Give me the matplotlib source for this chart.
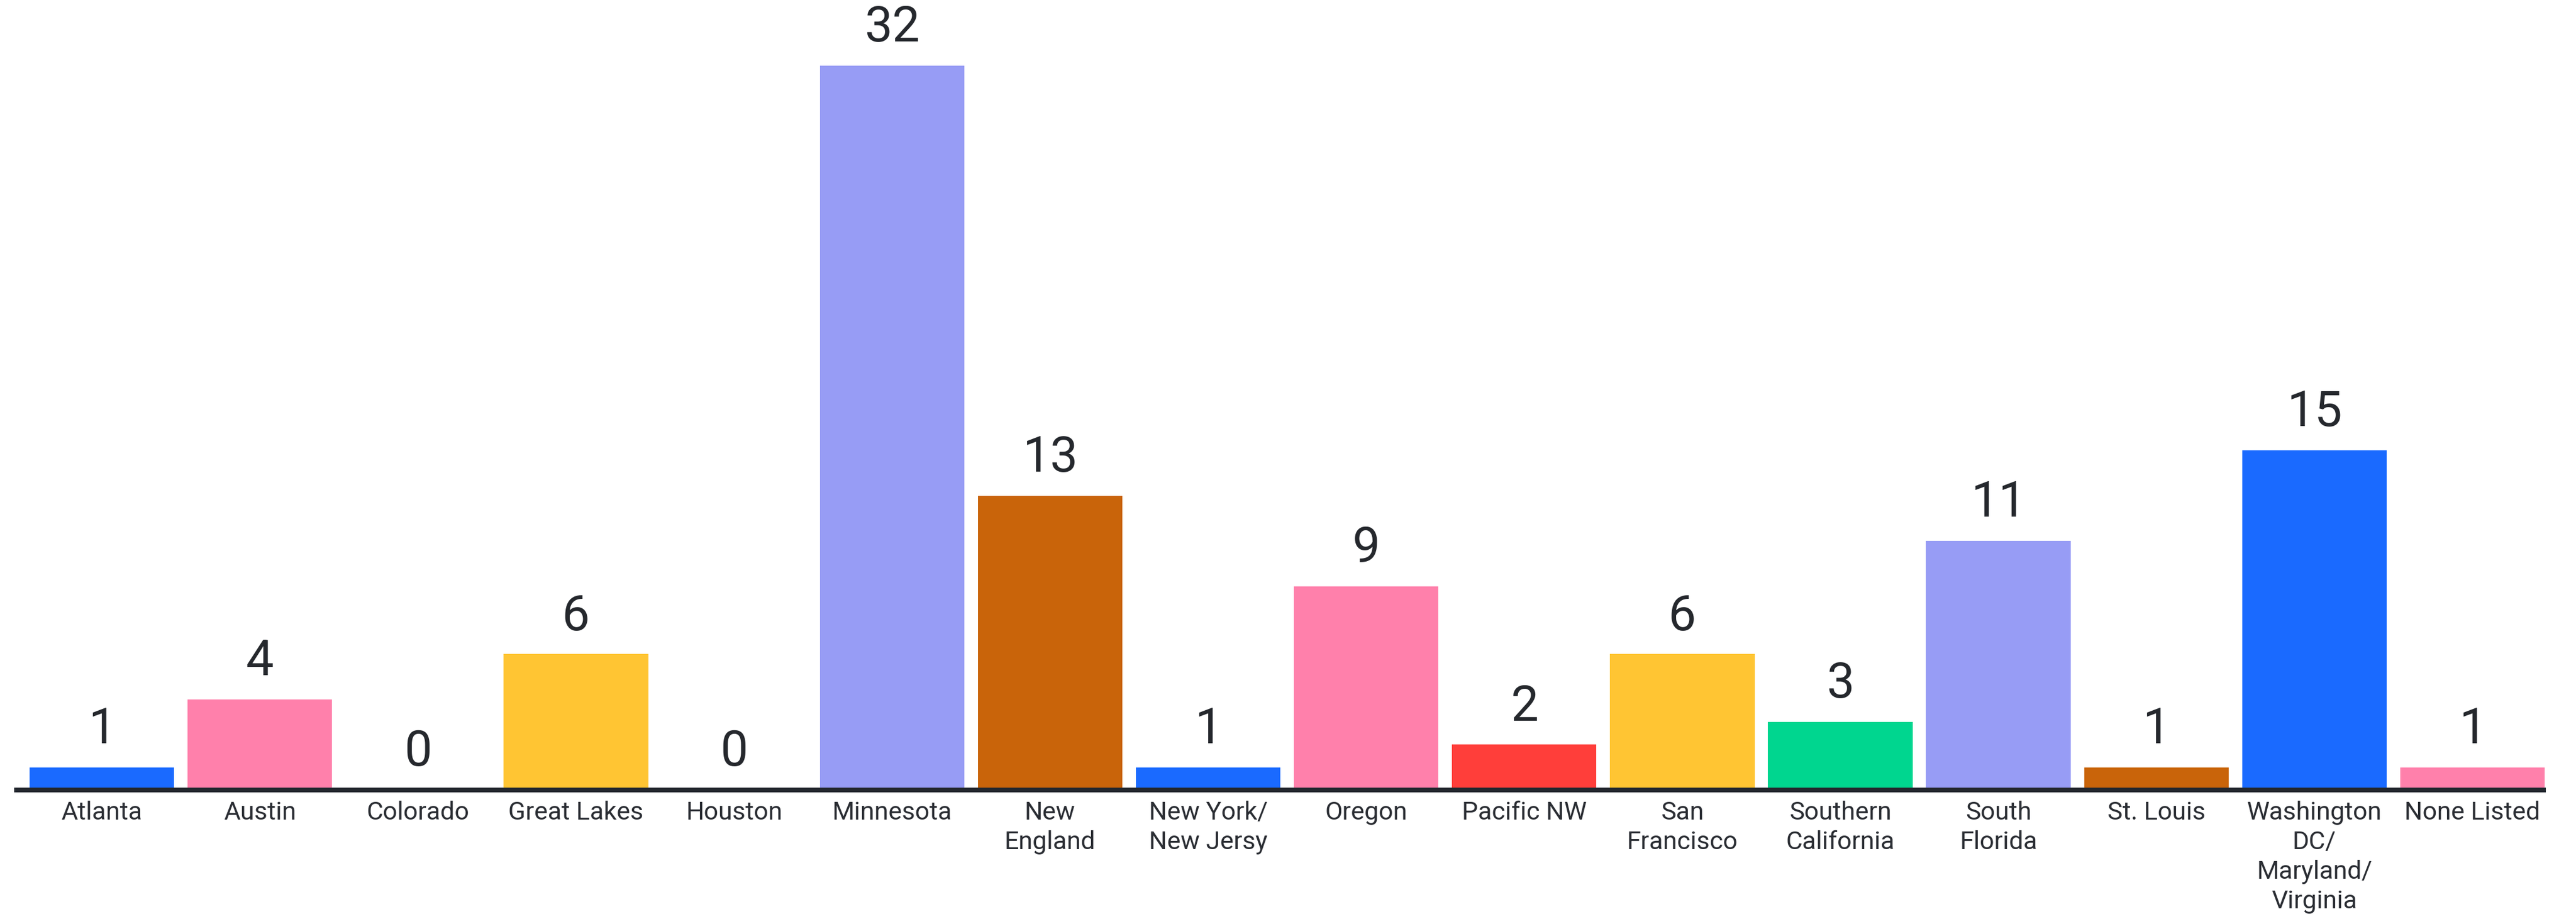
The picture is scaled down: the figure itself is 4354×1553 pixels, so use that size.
import numpy as np
import matplotlib.pyplot as plt

# data
regions = ['Atlanta', 'Austin', 'Colorado', 'Great Lakes', 'Houston', 'Minnesota',
           'New\nEngland', 'New York/\nNew Jersy', 'Oregon', 'Pacific NW', 'San\nFrancisco',
           'Southern\nCalifornia', 'South\nFlorida', 'St. Louis',
           'Washington\nDC/\nMaryland/\nVirginia', 'None Listed']
counts = [1, 4, 0, 6, 0, 32, 13, 1, 9, 2, 6, 3, 11, 1, 15, 1]
palette = ['#1a6aff', '#ff80ab', '#ff3e3a', '#ffc533', '#00d68f', '#979cf5', '#c9640a']

colors = [palette[i % len(palette)] for i in range(len(counts))]
x = np.arange(len(counts))

fig = plt.figure(figsize=(43.54, 15.53), dpi=100)
ax = fig.add_axes([0.0, 0.1405, 1.0, 0.8595])

ax.bar(x, counts, width=0.915, color=colors, zorder=1)

for xi, c in zip(x, counts):
    ax.annotate(str(c), (xi, c), xytext=(0, 17), textcoords='offset points',
                ha='center', va='bottom', fontsize=60, family='Roboto', color='#25282d')

ax.set_xlim(-0.6445, 15.655)
ax.set_ylim(0, 34.9)

ax.set_xticks(x)
ax.set_xticklabels(regions, fontsize=31, family='Roboto', color='#2a2d33', linespacing=1.28)
ax.tick_params(axis='x', length=0, pad=13)
ax.tick_params(axis='y', left=False, labelleft=False)

for s in ['top', 'right', 'left']:
    ax.spines[s].set_visible(False)
ax.spines['bottom'].set_linewidth(5.8)
ax.spines['bottom'].set_color('#23272e')
ax.spines['bottom'].set_zorder(3)
ax.spines['bottom'].set_bounds(-0.54, 15.45)

fig.savefig('out.png', dpi=100, facecolor='white')
